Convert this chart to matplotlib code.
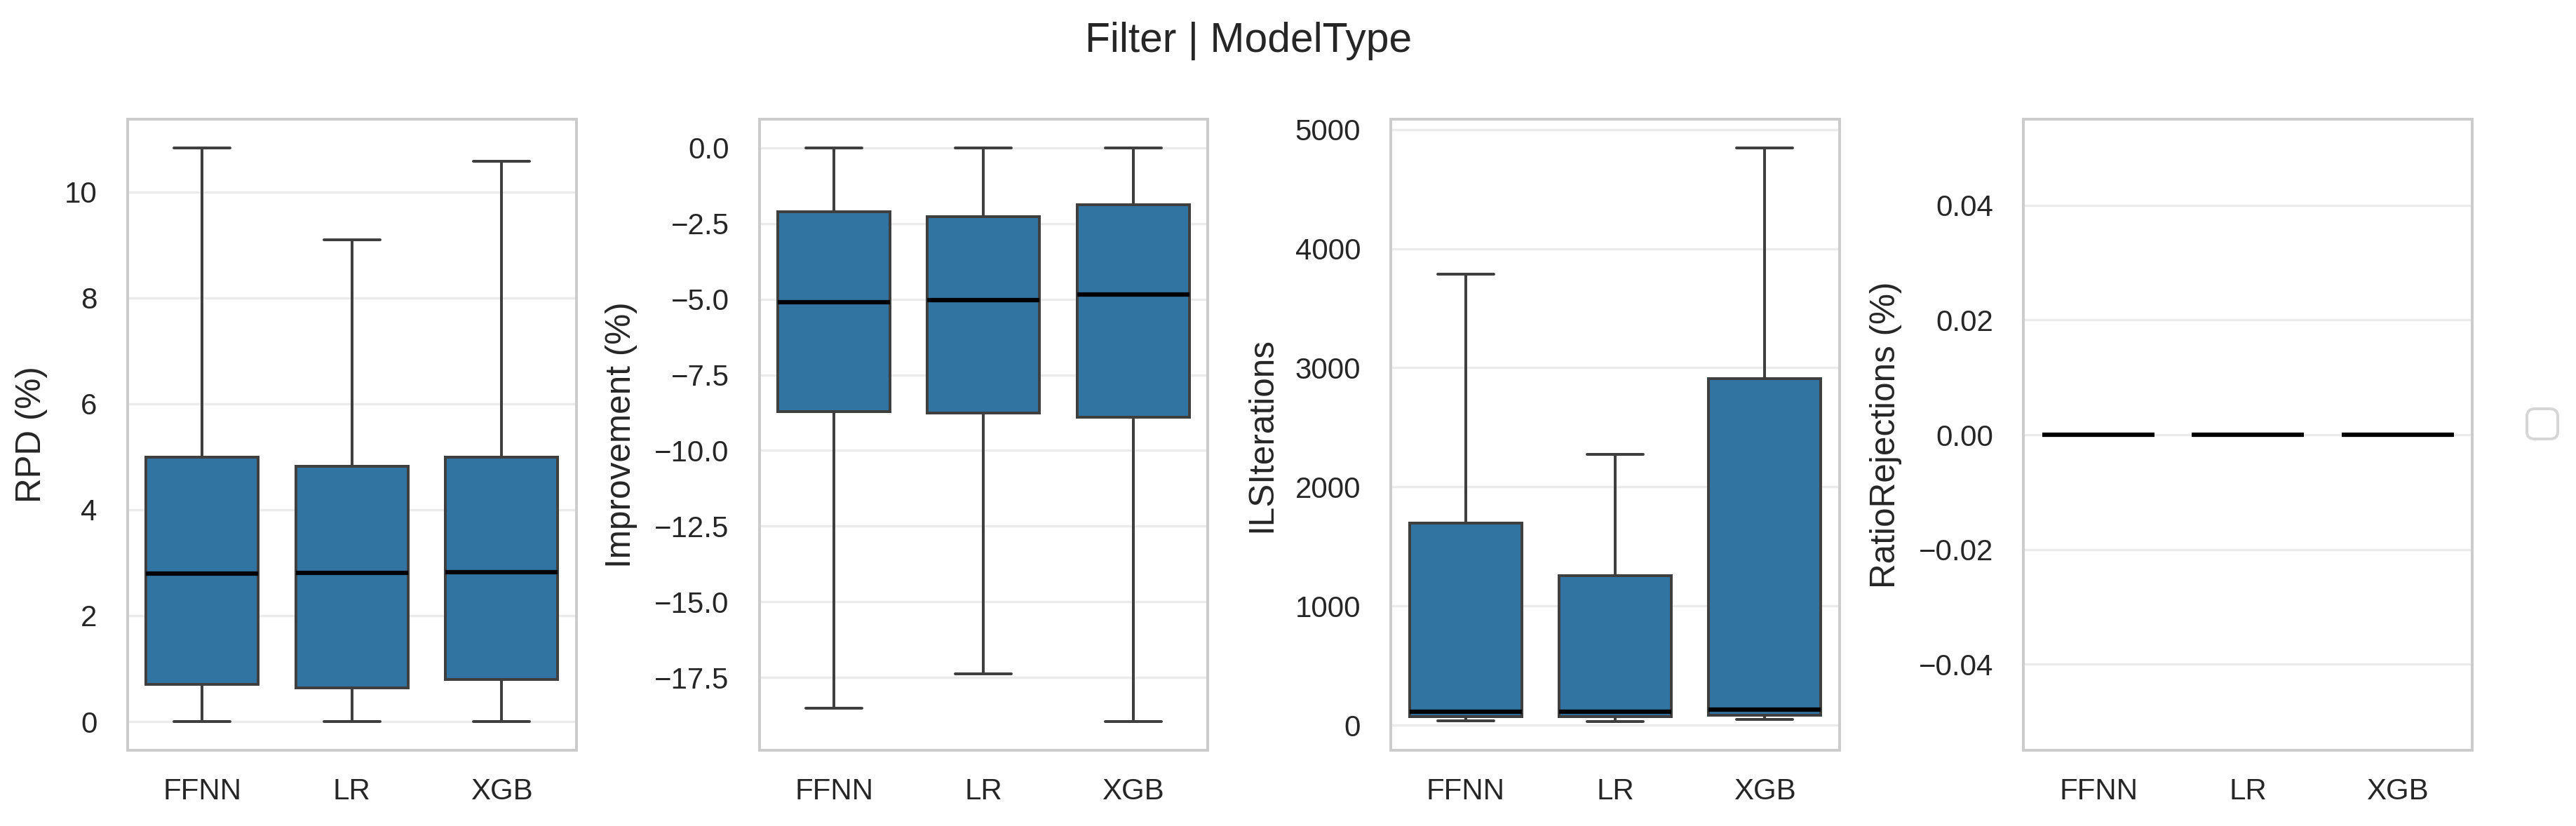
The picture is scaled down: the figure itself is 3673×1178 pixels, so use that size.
import matplotlib
matplotlib.use("Agg")
import matplotlib.pyplot as plt

plt.rcParams['font.family'] = ['Liberation Sans', 'DejaVu Sans']

# ---------------- data ----------------
categories = ["FFNN", "LR", "XGB"]

rpd_whislo = [0.0, 0.0, 0.0]
rpd_q1 = [0.70, 0.64, 0.80]
rpd_med = [2.79, 2.805, 2.82]
rpd_q3 = [4.985, 4.82, 4.99]
rpd_whishi = [10.83, 9.09, 10.58]

imp_whislo = [-18.52, -17.39, -18.96]
imp_q1 = [-8.72, -8.77, -8.90]
imp_med = [-5.09, -5.03, -4.85]
imp_q3 = [-2.10, -2.27, -1.875]
imp_whishi = [0.0, 0.0, 0.0]

ils_whislo = [39, 31, 47]
ils_q1 = [73, 70, 85]
ils_med = [116, 112, 131]
ils_q3 = [1697, 1253, 2908]
ils_whishi = [3786, 2274, 4845]

rej_whislo = [0.0, 0.0, 0.0]
rej_q1 = [0.0, 0.0, 0.0]
rej_med = [0.0, 0.0, 0.0]
rej_q3 = [0.0, 0.0, 0.0]
rej_whishi = [0.0, 0.0, 0.0]

ylabels = ["RPD (%)", "Improvement (%)", "ILSIterations", "RatioRejections (%)"]
title = "Filter | ModelType"

# ---------------- style ----------------
W, H, DPI = 3673, 1178, 300
BOX_COLOR = "#3274a1"
EDGE = "#3f3f3f"
TEXT = "#262626"
GRID = "#ebebeb"
SPINE = "#cccccc"
LW = 0.96

fig = plt.figure(figsize=(W / DPI, H / DPI), dpi=DPI)
fig.patch.set_facecolor("white")

lefts = [181.5, 1082.5, 1983.0, 2885.4]
widths = [640.5, 640.0, 640.0, 639.8]
bottom_px, top_px = 1070.0, 170.0

series = [
    (rpd_whislo, rpd_q1, rpd_med, rpd_q3, rpd_whishi),
    (imp_whislo, imp_q1, imp_med, imp_q3, imp_whishi),
    (ils_whislo, ils_q1, ils_med, ils_q3, ils_whishi),
    (rej_whislo, rej_q1, rej_med, rej_q3, rej_whishi),
]

axes = []
for i, (lo, q1, med, q3, hi) in enumerate(series):
    ax = fig.add_axes([lefts[i] / W, (H - bottom_px) / H, widths[i] / W,
                       (bottom_px - top_px) / H])
    axes.append(ax)
    stats = []
    for j, c in enumerate(categories):
        stats.append(dict(label=c, whislo=lo[j], q1=q1[j], med=med[j],
                          q3=q3[j], whishi=hi[j], fliers=[]))
    ax.set_axisbelow(True)
    ax.yaxis.grid(True, color=GRID, linewidth=0.8)
    ax.xaxis.grid(False)
    ax.bxp(stats, positions=range(len(categories)), widths=0.75,
           capwidths=0.375, patch_artist=True, showfliers=False,
           boxprops=dict(facecolor=BOX_COLOR, edgecolor=EDGE, linewidth=LW),
           whiskerprops=dict(color=EDGE, linewidth=LW),
           capprops=dict(color=EDGE, linewidth=LW, solid_capstyle='round'),
           medianprops=dict(color="black", linewidth=1.5))
    ax.set_xlim(-0.5, len(categories) - 0.5)
    ax.set_xticks(range(len(categories)))
    ax.set_xticklabels(categories)
    ax.set_ylabel(ylabels[i], fontsize=11.9, color=TEXT, labelpad=5.8)
    ax.tick_params(axis='both', length=0, labelsize=10.1, colors=TEXT)
    ax.tick_params(axis='y', pad=10.3)
    ax.tick_params(axis='x', pad=9.4)
    for s in ax.spines.values():
        s.set_color(SPINE)
        s.set_linewidth(LW)
    ax.set_facecolor("white")

axes[3].set_ylim(-0.055, 0.055)

leg = axes[3].legend(handles=[], loc='center left', bbox_to_anchor=(1.122, 0.517),
                     borderaxespad=0, frameon=True, fontsize=13)
leg.get_frame().set_edgecolor("#cccccc")
leg.get_frame().set_linewidth(LW)

fig.text(0.4846, 1 - 74.0 / H, title, ha='center', va='baseline',
         fontsize=14.1, color=TEXT)

fig.savefig("out.png", dpi=DPI, facecolor="white")
